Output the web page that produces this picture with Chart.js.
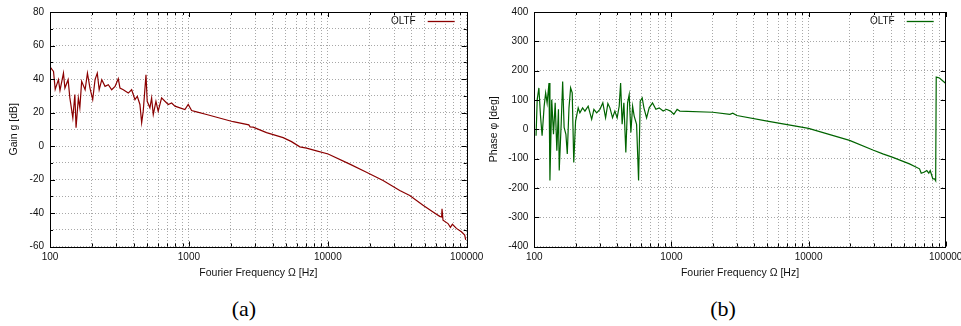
<!DOCTYPE html>
<html>
<head>
<meta charset="utf-8">
<script src="https://cdn.jsdelivr.net/npm/chart.js@4.4.0/dist/chart.umd.min.js"></script>
<style>
  html, body { margin: 0; padding: 0; background: #fff; overflow: hidden; width: 961px; height: 326px; }
  canvas { position: absolute; top: 0; }
  #gainChart { left: 0; }
  #phaseChart { left: 480px; }
  .cap { position: absolute; top: 296px; width: 60px; text-align: center; font-family: "Liberation Serif", serif; font-size: 22px; color: #000; }
</style>
</head>
<body>
<canvas id="gainChart" width="490" height="290"></canvas>
<canvas id="phaseChart" width="495" height="290"></canvas>
<div class="cap" style="left:214px">(a)</div>
<div class="cap" style="left:693px">(b)</div>
<script>
// (a) gain of the open loop transfer function
const freqA = [101, 106, 109, 115, 118, 125, 128, 135, 139, 146, 151, 154, 160, 164, 169, 179, 186, 194, 203, 211,
  219, 226, 236, 249, 263, 278, 294, 310, 319, 337, 366, 387, 409, 425, 444, 457, 469, 491, 501, 524,
  539, 554, 579, 601, 636, 672, 710, 751, 793, 862, 936, 989, 1046, 1136, 1341, 2083, 2700, 2760, 2901, 3622,
  4770, 5480, 6290, 7028, 8293, 10050, 14400, 18980, 24990, 32960, 38900, 48490, 57230, 63950, 66000, 66420, 67530, 73360, 76330, 78910,
  84300, 91620, 96740, 98350];
const gainA = [46.8, 44.5, 33.8, 39.6, 33.2, 43.5, 34.6, 39.6, 28.7, 16.8, 30.7, 10.9, 28.7, 22.8, 38.6, 33.6, 43.5, 34.6, 27.7, 39.6,
  43.5, 33.6, 39.6, 35.6, 36.6, 33.6, 35.6, 40.2, 34.6, 33.6, 31.6, 33.6, 27.7, 29.7, 24.8, 13.9, 20.8, 42.5, 26.7, 22.8,
  28.7, 18.8, 26.7, 20.8, 28.7, 26.7, 24.8, 25.7, 23.8, 22.8, 21.8, 24.8, 21.2, 20.4, 18.8, 14.5, 12.6, 11.4, 11.3, 8.0,
  5.0, 2.6, -0.5, -1.3, -2.9, -4.8, -10.8, -15.7, -20.6, -26.6, -29.5, -35.4, -39.4, -42.0, -42.4, -37.5, -44.3, -46.3, -48.6, -46.7,
  -49.2, -51.2, -53.2, -56.0];

// (b) phase of the open loop transfer function
const freqB = [103, 105, 108, 111, 114, 118, 121, 124, 128, 130, 134, 138, 142, 146, 150, 152, 157, 161, 165, 170,
  174, 179, 184, 189, 194, 200, 209, 215, 225, 234, 247, 262, 272, 285, 301, 316, 331, 344, 356, 372,
  387, 402, 416, 426, 437, 450, 465, 479, 492, 506, 521, 535, 557, 576, 592, 612, 630, 659, 688, 728,
  770, 814, 870, 921, 985, 1041, 1100, 1151, 2000, 2670, 2800, 3000, 5000, 10000, 19900, 29450, 34800, 41200, 54450, 64450,
  66300, 70070, 72820, 75300, 77100, 80540, 82800, 84500, 85300, 90100, 99200];
const phaseB = [-22, 101, 141, 45, -22, 79, 124, 90, 158, -175, 101, -17, 90, -73, 68, -141, 17, 163, 6, -17,
  -84, 73, 141, 124, -113, 28, 73, 56, 73, 62, 79, 34, 68, 56, 68, 90, 39, 88, 73, 39,
  62, 39, 79, 158, 17, 90, -79, 90, 118, -11, 79, 45, 17, -175, 96, 107, 73, 39, 73, 90,
  68, 73, 62, 68, 62, 51, 68, 62, 58, 51, 55, 47, 28, 3, -38, -71, -84, -96, -118, -135,
  -150, -146, -141, -150, -141, -169, -169, -176, 178, 175, 158];

const xMajor = [100, 1000, 10000, 100000];
const xTicks = [];
for (let d = 100; d < 100000; d *= 10) {
  for (let m = 1; m <= 9; m++) xTicks.push(m * d);
}
xTicks.push(100000);

const sans = "'Liberation Sans', Arial, sans-serif";

// gnuplot-like frame, inward ticks and legend (text then line sample)
const framePlugin = {
  id: 'frame',
  afterDraw(chart) {
    const { ctx, chartArea: a, scales } = chart;
    const xs = scales.x, ys = scales.y;
    ctx.save();
    ctx.strokeStyle = '#000';
    ctx.lineWidth = 1;
    ctx.beginPath();
    xs.ticks.forEach(t => {
      const px = Math.round(xs.getPixelForValue(t.value)) + 0.5;
      const len = xMajor.includes(t.value) ? 5 : 3;
      ctx.moveTo(px, a.bottom); ctx.lineTo(px, a.bottom - len);
      ctx.moveTo(px, a.top); ctx.lineTo(px, a.top + len);
    });
    ys.ticks.forEach(t => {
      const py = Math.round(ys.getPixelForValue(t.value)) + 0.5;
      const len = t.label !== '' ? 5 : 3;
      ctx.moveTo(a.left, py); ctx.lineTo(a.left + len, py);
      ctx.moveTo(a.right, py); ctx.lineTo(a.right - len, py);
    });
    ctx.stroke();
    ctx.strokeRect(Math.round(a.left) + 0.5, Math.round(a.top) + 0.5, Math.round(a.right - a.left), Math.round(a.bottom - a.top));

    const ds = chart.data.datasets[0];
    const ly = a.top + 9.5;
    ctx.fillStyle = '#111';
    ctx.font = '10px ' + sans;
    ctx.textAlign = 'right';
    ctx.textBaseline = 'middle';
    ctx.fillText(ds.label, a.right - 51, ly);
    ctx.strokeStyle = ds.borderColor;
    ctx.lineWidth = 1.3;
    ctx.beginPath();
    ctx.moveTo(a.right - 39, ly);
    ctx.lineTo(a.right - 12, ly);
    ctx.stroke();
    ctx.restore();
  }
};

function makeChart(id, freqs, vals, color, yMin, yMax, yStep, yMajor, yTitle, axisWidth, padRight, titlePad) {
  const ctx = document.getElementById(id).getContext('2d');
  return new Chart(ctx, {
    type: 'line',
    data: {
      datasets: [{
        label: 'OLTF',
        data: freqs.map((f, i) => ({ x: f, y: vals[i] })),
        borderColor: color,
        borderWidth: 1.2,
        pointRadius: 0,
        fill: false,
        tension: 0
      }]
    },
    options: {
      responsive: false,
      animation: false,
      devicePixelRatio: 1,
      layout: { padding: { left: 0, top: 10, right: padRight, bottom: 0 } },
      plugins: {
        legend: { display: false },
        tooltip: { enabled: false }
      },
      scales: {
        x: {
          type: 'logarithmic',
          min: 100,
          max: 100000,
          afterBuildTicks: s => { s.ticks = xTicks.map(v => ({ value: v })); },
          afterFit: s => { s.height = 43.5; },
          grid: { color: '#a8a8a8', lineWidth: 1, drawTicks: false },
          border: { display: false, dash: [1, 2] },
          ticks: {
            autoSkip: false,
            maxRotation: 0,
            padding: 5,
            color: '#111',
            font: { family: sans, size: 10 },
            callback: v => xMajor.includes(v) ? String(v) : ''
          },
          title: {
            display: true,
            text: 'Fourier Frequency Ω [Hz]',
            color: '#111',
            font: { family: sans, size: 10.5 },
            padding: { top: 0, bottom: 10.7 }
          }
        },
        y: {
          min: yMin,
          max: yMax,
          afterFit: s => { s.width = axisWidth; },
          grid: { color: '#a8a8a8', lineWidth: 1, drawTicks: false },
          border: { display: false, dash: [1, 2] },
          ticks: {
            stepSize: yStep,
            padding: 6,
            color: '#111',
            font: { family: sans, size: 10 },
            callback: v => v % yMajor === 0 ? String(v) : ''
          },
          title: {
            display: true,
            text: yTitle,
            color: '#111',
            font: { family: sans, size: 10.5 },
            padding: { top: titlePad, bottom: 0 }
          }
        }
      }
    },
    plugins: [framePlugin]
  });
}

makeChart('gainChart', freqA, gainA, '#8b0000', -60, 80, 10, 20, 'Gain g [dB]', 50, 23.3, 7.7);
makeChart('phaseChart', freqB, phaseB, '#006400', -400, 400, 50, 100, 'Phase φ [deg]', 54.3, 29.3, 7.4);
</script>
</body>
</html>
